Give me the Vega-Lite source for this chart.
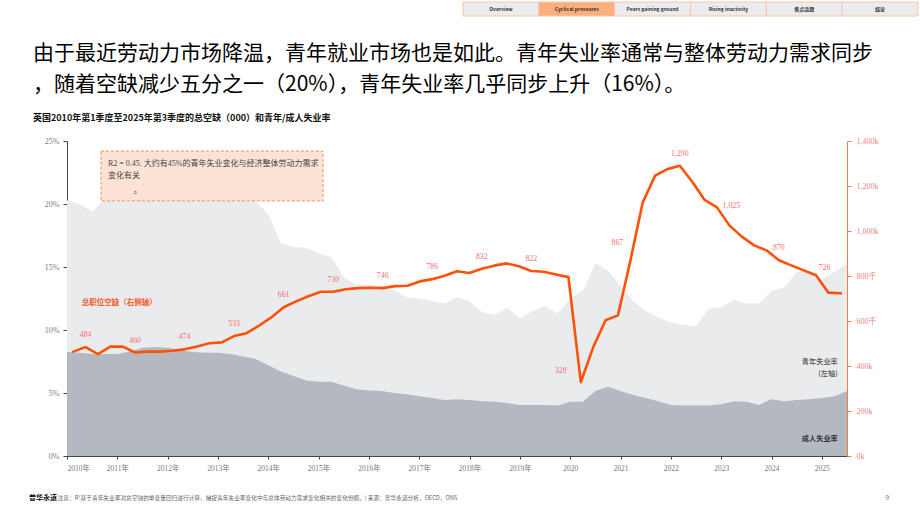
{
  "$schema": "https://vega.github.io/schema/vega-lite/v6.json",
  "background": "#ffffff",
  "padding": {"left": 29, "top": 1, "right": 0, "bottom": 0},
  "spacing": 26,
  "config": {"view": {"stroke": null}, "font": "Noto Sans CJK SC"},
  "vconcat": [
    {
      "width": 780,
      "height": 14,
      "data": {"values": [
        {"tab": "Overview", "active": false},
        {"tab": "Cyclical pressures", "active": true},
        {"tab": "Peers gaining ground", "active": false},
        {"tab": "Rising inactivity", "active": false},
        {"tab": "焦点话题", "active": false},
        {"tab": "结论", "active": false}
      ]},
      "encoding": {
        "x": {"field": "tab", "type": "nominal", "axis": null,
          "scale": {"domain": ["Overview", "Cyclical pressures", "Peers gaining ground", "Rising inactivity", "焦点话题", "结论"],
                    "range": [396, 851], "paddingInner": 0, "paddingOuter": 0}}
      },
      "layer": [
        {
          "mark": {"type": "rect", "stroke": "#F8C6A8", "strokeWidth": 1},
          "encoding": {"fill": {"condition": {"test": "datum.active", "value": "#FCAF7E"}, "value": "#ECECEF"}}
        },
        {
          "mark": {"type": "text", "font": "Noto Sans CJK SC", "fontSize": 5, "fontWeight": "bold", "color": "#333333"},
          "encoding": {"text": {"field": "tab"}}
        }
      ]
    },
    {
      "width": 780,
      "height": 315,
      "title": {
        "text": ["由于最近劳动力市场降温，青年就业市场也是如此。青年失业率通常与整体劳动力需求同步", "，随着空缺减少五分之一（20%），青年失业率几乎同步上升（16%）。"],
        "subtitle": "英国2010年第1季度至2025年第3季度的总空缺（000）和青年/成人失业率",
        "anchor": "start",
        "frame": "group",
        "dx": -34,
        "font": "Noto Sans CJK SC",
        "fontSize": 21,
        "fontWeight": "normal",
        "color": "#000000",
        "lineHeight": 31,
        "subtitleFont": "Noto Sans CJK SC",
        "subtitleFontSize": 9,
        "subtitleFontWeight": "bold",
        "subtitleColor": "#111111",
        "subtitlePadding": 19,
        "offset": 14
      },
      "data": {"values": [
        {"q": 0, "quarter": "2010Q1", "youth": 20.3, "adult": 8.25, "vac": 464},
        {"q": 1, "quarter": "2010Q2", "youth": 20.0, "adult": 8.2, "vac": 484},
        {"q": 2, "quarter": "2010Q3", "youth": 19.4, "adult": 8.1, "vac": 453},
        {"q": 3, "quarter": "2010Q4", "youth": 20.4, "adult": 8.1, "vac": 486},
        {"q": 4, "quarter": "2011Q1", "youth": 20.2, "adult": 8.1, "vac": 486},
        {"q": 5, "quarter": "2011Q2", "youth": 20.5, "adult": 8.3, "vac": 460},
        {"q": 6, "quarter": "2011Q3", "youth": 21.3, "adult": 8.6, "vac": 464},
        {"q": 7, "quarter": "2011Q4", "youth": 21.9, "adult": 8.65, "vac": 464},
        {"q": 8, "quarter": "2012Q1", "youth": 22.2, "adult": 8.6, "vac": 468},
        {"q": 9, "quarter": "2012Q2", "youth": 21.6, "adult": 8.4, "vac": 474},
        {"q": 10, "quarter": "2012Q3", "youth": 21.0, "adult": 8.25, "vac": 487},
        {"q": 11, "quarter": "2012Q4", "youth": 21.2, "adult": 8.2, "vac": 501},
        {"q": 12, "quarter": "2013Q1", "youth": 21.1, "adult": 8.2, "vac": 505},
        {"q": 13, "quarter": "2013Q2", "youth": 20.7, "adult": 8.1, "vac": 533},
        {"q": 14, "quarter": "2013Q3", "youth": 20.8, "adult": 7.9, "vac": 546},
        {"q": 15, "quarter": "2013Q4", "youth": 20.2, "adult": 7.7, "vac": 579},
        {"q": 16, "quarter": "2014Q1", "youth": 19.2, "adult": 7.2, "vac": 616},
        {"q": 17, "quarter": "2014Q2", "youth": 16.9, "adult": 6.7, "vac": 661},
        {"q": 18, "quarter": "2014Q3", "youth": 16.6, "adult": 6.35, "vac": 687},
        {"q": 19, "quarter": "2014Q4", "youth": 16.5, "adult": 6.0, "vac": 710},
        {"q": 20, "quarter": "2015Q1", "youth": 16.1, "adult": 5.9, "vac": 730},
        {"q": 21, "quarter": "2015Q2", "youth": 15.8, "adult": 5.9, "vac": 730},
        {"q": 22, "quarter": "2015Q3", "youth": 14.2, "adult": 5.6, "vac": 741},
        {"q": 23, "quarter": "2015Q4", "youth": 13.6, "adult": 5.3, "vac": 746},
        {"q": 24, "quarter": "2016Q1", "youth": 13.6, "adult": 5.2, "vac": 748},
        {"q": 25, "quarter": "2016Q2", "youth": 13.5, "adult": 5.15, "vac": 746},
        {"q": 26, "quarter": "2016Q3", "youth": 13.2, "adult": 5.0, "vac": 755},
        {"q": 27, "quarter": "2016Q4", "youth": 12.6, "adult": 4.9, "vac": 757},
        {"q": 28, "quarter": "2017Q1", "youth": 12.5, "adult": 4.75, "vac": 776},
        {"q": 29, "quarter": "2017Q2", "youth": 12.3, "adult": 4.6, "vac": 786},
        {"q": 30, "quarter": "2017Q3", "youth": 12.1, "adult": 4.45, "vac": 801},
        {"q": 31, "quarter": "2017Q4", "youth": 12.6, "adult": 4.5, "vac": 821},
        {"q": 32, "quarter": "2018Q1", "youth": 12.3, "adult": 4.45, "vac": 813},
        {"q": 33, "quarter": "2018Q2", "youth": 11.4, "adult": 4.35, "vac": 832},
        {"q": 34, "quarter": "2018Q3", "youth": 11.2, "adult": 4.3, "vac": 846},
        {"q": 35, "quarter": "2018Q4", "youth": 11.8, "adult": 4.2, "vac": 856},
        {"q": 36, "quarter": "2019Q1", "youth": 10.9, "adult": 4.05, "vac": 843},
        {"q": 37, "quarter": "2019Q2", "youth": 11.5, "adult": 4.05, "vac": 822},
        {"q": 38, "quarter": "2019Q3", "youth": 11.9, "adult": 4.05, "vac": 819},
        {"q": 39, "quarter": "2019Q4", "youth": 11.3, "adult": 4.0, "vac": 807},
        {"q": 40, "quarter": "2020Q1", "youth": 12.5, "adult": 4.3, "vac": 795},
        {"q": 41, "quarter": "2020Q2", "youth": 13.1, "adult": 4.3, "vac": 328},
        {"q": 42, "quarter": "2020Q3", "youth": 15.3, "adult": 5.15, "vac": 483},
        {"q": 43, "quarter": "2020Q4", "youth": 14.7, "adult": 5.5, "vac": 603},
        {"q": 44, "quarter": "2021Q1", "youth": 13.5, "adult": 5.15, "vac": 625},
        {"q": 45, "quarter": "2021Q2", "youth": 12.3, "adult": 4.85, "vac": 867},
        {"q": 46, "quarter": "2021Q3", "youth": 11.5, "adult": 4.6, "vac": 1127},
        {"q": 47, "quarter": "2021Q4", "youth": 11.0, "adult": 4.35, "vac": 1246},
        {"q": 48, "quarter": "2022Q1", "youth": 10.6, "adult": 4.05, "vac": 1275},
        {"q": 49, "quarter": "2022Q2", "youth": 10.4, "adult": 4.0, "vac": 1290},
        {"q": 50, "quarter": "2022Q3", "youth": 10.3, "adult": 4.0, "vac": 1219},
        {"q": 51, "quarter": "2022Q4", "youth": 11.7, "adult": 4.0, "vac": 1138},
        {"q": 52, "quarter": "2023Q1", "youth": 11.8, "adult": 4.1, "vac": 1105},
        {"q": 53, "quarter": "2023Q2", "youth": 12.4, "adult": 4.35, "vac": 1025},
        {"q": 54, "quarter": "2023Q3", "youth": 12.1, "adult": 4.3, "vac": 975},
        {"q": 55, "quarter": "2023Q4", "youth": 12.1, "adult": 4.05, "vac": 936},
        {"q": 56, "quarter": "2024Q1", "youth": 13.1, "adult": 4.5, "vac": 914},
        {"q": 57, "quarter": "2024Q2", "youth": 13.4, "adult": 4.35, "vac": 870},
        {"q": 58, "quarter": "2024Q3", "youth": 14.6, "adult": 4.45, "vac": 847},
        {"q": 59, "quarter": "2024Q4", "youth": 14.6, "adult": 4.5, "vac": 825},
        {"q": 60, "quarter": "2025Q1", "youth": 14.0, "adult": 4.6, "vac": 803},
        {"q": 61, "quarter": "2025Q2", "youth": 14.6, "adult": 4.75, "vac": 726},
        {"q": 62, "quarter": "2025Q3", "youth": 15.3, "adult": 5.15, "vac": 723}
      ]},
      "layer": [
        {
          "layer": [
            {
              "mark": {"type": "area", "color": "#EAEBED"},
              "encoding": {
                "x": {"field": "q", "type": "quantitative",
                  "scale": {"domain": [0, 62], "nice": false, "zero": false},
                  "axis": {"values": [0, 4, 8, 12, 16, 20, 24, 28, 32, 36, 40, 44, 48, 52, 56, 60],
                    "labelExpr": "(2010 + datum.value / 4) + (datum.value < 40 ? '年' : '')",
                    "title": null, "grid": false,
                    "domainColor": "#444444", "tickColor": "#444444", "tickSize": 3,
                    "labelColor": "#7a7a7a", "labelFont": "'Liberation Serif', 'Noto Sans CJK SC', serif",
                    "labelFontSize": 7.5, "labelPadding": 5}},
                "y": {"field": "youth", "type": "quantitative",
                  "scale": {"domain": [0, 25], "nice": false},
                  "axis": {"orient": "left", "values": [0, 5, 10, 15, 20, 25], "labelExpr": "datum.value + '%'",
                    "title": null, "grid": false,
                    "domainColor": "#444444", "tickColor": "#444444", "tickSize": 4,
                    "labelColor": "#7a7a7a", "labelFont": "'Liberation Serif', serif",
                    "labelFontSize": 8, "labelPadding": 4}}
              }
            },
            {
              "mark": {"type": "area", "color": "#B3B8C1"},
              "encoding": {
                "x": {"field": "q", "type": "quantitative"},
                "y": {"field": "adult", "type": "quantitative"}
              }
            },
            {
              "data": {"values": [{}]},
              "mark": {"type": "rect", "fill": "#FDE3D6", "stroke": "#F58D5E", "strokeWidth": 1, "strokeDash": [3, 2]},
              "encoding": {
                "x": {"datum": 2.7}, "x2": {"datum": 20.35},
                "y": {"datum": 24.2}, "y2": {"datum": 20.25}
              }
            },
            {
              "data": {"values": [{"t": "R2 = 0.45. 大约有45%的青年失业变化与经济整体劳动力需求"}]},
              "mark": {"type": "text", "align": "left", "font": "'Liberation Serif', 'Noto Sans CJK SC', serif", "fontSize": 8, "color": "#444444"},
              "encoding": {"x": {"datum": 3.26}, "y": {"datum": 23.17}, "text": {"field": "t"}}
            },
            {
              "data": {"values": [{"t": "变化有关"}]},
              "mark": {"type": "text", "align": "left", "font": "'Liberation Serif', 'Noto Sans CJK SC', serif", "fontSize": 8, "color": "#444444"},
              "encoding": {"x": {"datum": 3.26}, "y": {"datum": 22.2}, "text": {"field": "t"}}
            },
            {
              "data": {"values": [{"t": "。"}]},
              "mark": {"type": "text", "align": "left", "font": "'Liberation Serif', 'Noto Sans CJK SC', serif", "fontSize": 8, "color": "#444444"},
              "encoding": {"x": {"datum": 5.3}, "y": {"datum": 21.0}, "text": {"field": "t"}}
            },
            {
              "data": {"values": [{"t": "总职位空缺（右侧轴）"}]},
              "mark": {"type": "text", "align": "left", "fontSize": 7.5, "fontWeight": "bold", "color": "#F05A1E"},
              "encoding": {"x": {"datum": 1.17}, "y": {"datum": 12.14}, "text": {"field": "t"}}
            },
            {
              "data": {"values": [{"t": "青年失业率"}]},
              "mark": {"type": "text", "align": "right", "fontSize": 7.2, "fontWeight": 500, "color": "#555555"},
              "encoding": {"x": {"datum": 61.27}, "y": {"datum": 7.46}, "text": {"field": "t"}}
            },
            {
              "data": {"values": [{"t": "(左轴)"}]},
              "mark": {"type": "text", "align": "right", "fontSize": 7.2, "fontWeight": 500, "color": "#555555"},
              "encoding": {"x": {"datum": 61.27}, "y": {"datum": 6.5}, "text": {"field": "t"}}
            },
            {
              "data": {"values": [{"t": "成人失业率"}]},
              "mark": {"type": "text", "align": "right", "fontSize": 7.2, "fontWeight": "bold", "color": "#333333"},
              "encoding": {"x": {"datum": 61.27}, "y": {"datum": 1.35}, "text": {"field": "t"}}
            },
            {
              "data": {"values": [{"t": "普华永道"}]},
              "mark": {"type": "text", "align": "left", "fontSize": 7, "fontWeight": "bold", "color": "#111111"},
              "encoding": {"x": {"datum": -3.02}, "y": {"datum": -3.33}, "text": {"field": "t"}}
            },
            {
              "data": {"values": [{"t": "注意：R²基于青年失业率对总空缺的单变量回归进行计算，捕捉青年失业率变化中与总体劳动力需求变化相关的变化份额。| 来源：普华永道分析，OECD，ONS"}]},
              "mark": {"type": "text", "align": "left", "fontSize": 5.7, "color": "#666666"},
              "encoding": {"x": {"datum": -0.75}, "y": {"datum": -3.33}, "text": {"field": "t"}}
            },
            {
              "data": {"values": [{"t": "9"}]},
              "mark": {"type": "text", "align": "center", "fontSize": 7, "color": "#777777"},
              "encoding": {"x": {"datum": 65.2}, "y": {"datum": -3.33}, "text": {"field": "t"}}
            }
          ]
        },
        {
          "encoding": {
            "x": {"field": "q", "type": "quantitative", "scale": {"domain": [-0.5, 62.5], "nice": false, "zero": false}, "axis": null},
            "y": {"field": "vac", "type": "quantitative",
              "scale": {"domain": [0, 1400], "nice": false},
              "axis": {"orient": "right", "values": [0, 200, 400, 600, 800, 1000, 1200, 1400],
                "labelExpr": "datum.value == 600 || datum.value == 800 ? datum.value + '千' : format(datum.value, ',') + 'k'",
                "title": null, "grid": false,
                "domainColor": "#F27C4A", "tickColor": "#F27C4A", "tickSize": 4,
                "labelColor": "#F27F7F", "labelFont": "'Liberation Serif', 'Noto Sans CJK SC', serif",
                "labelFontSize": 8, "labelPadding": 5}}
          },
          "layer": [
            {
              "mark": {"type": "line", "color": "#FD5108", "strokeWidth": 2.6, "strokeJoin": "round", "strokeCap": "round"}
            },
            {
              "transform": [{"filter": "datum.q % 4 == 1 && datum.q != 41 && datum.q != 45 && datum.q != 53 && datum.q != 61"}],
              "mark": {"type": "text", "dy": -12, "font": "'Liberation Serif', serif", "fontSize": 7.8, "color": "#F26F6F"},
              "encoding": {"text": {"field": "vac", "type": "quantitative", "format": ","}}
            },
            {
              "transform": [{"filter": "datum.q == 41"}],
              "mark": {"type": "text", "dx": -20, "dy": -11, "font": "'Liberation Serif', serif", "fontSize": 7.8, "color": "#F26F6F"},
              "encoding": {"text": {"field": "vac", "type": "quantitative", "format": ","}}
            },
            {
              "transform": [{"filter": "datum.q == 45"}],
              "mark": {"type": "text", "dx": -13, "dy": -18, "font": "'Liberation Serif', serif", "fontSize": 7.8, "color": "#F26F6F"},
              "encoding": {"text": {"field": "vac", "type": "quantitative", "format": ","}}
            },
            {
              "transform": [{"filter": "datum.q == 53"}],
              "mark": {"type": "text", "dx": 2, "dy": -19, "font": "'Liberation Serif', serif", "fontSize": 7.8, "color": "#F26F6F"},
              "encoding": {"text": {"field": "vac", "type": "quantitative", "format": ","}}
            },
            {
              "transform": [{"filter": "datum.q == 61"}],
              "mark": {"type": "text", "dx": -4, "dy": -25, "font": "'Liberation Serif', serif", "fontSize": 7.8, "color": "#F26F6F"},
              "encoding": {"text": {"field": "vac", "type": "quantitative", "format": ","}}
            }
          ]
        }
      ],
      "resolve": {"scale": {"x": "independent", "y": "independent"}, "axis": {"x": "independent", "y": "independent"}}
    }
  ]
}
